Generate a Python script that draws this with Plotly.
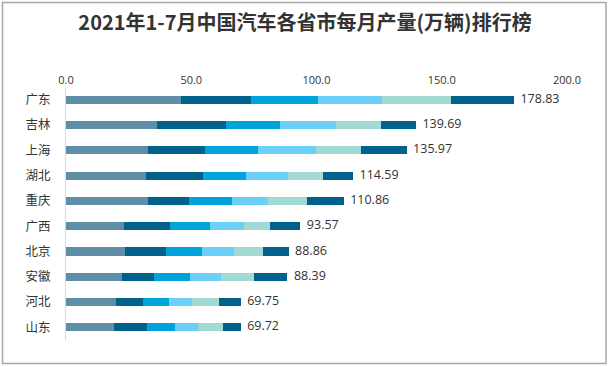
import plotly.graph_objects as go

provinces = ["广东", "吉林", "上海", "湖北", "重庆", "广西", "北京", "安徽", "河北", "山东"]
months = ["1-2月", "3月", "4月", "5月", "6月", "7月"]
m12 = [45.9, 36.4, 32.8, 32.0, 32.8, 23.2, 23.6, 22.5, 19.9, 19.3]
m3 = [27.9, 27.6, 22.8, 22.8, 16.4, 18.4, 16.4, 12.5, 10.8, 12.9]
m4 = [26.9, 21.6, 21.2, 17.0, 17.2, 16.0, 14.4, 14.4, 10.4, 11.3]
m5 = [25.4, 22.0, 22.8, 17.0, 14.4, 13.6, 12.8, 12.5, 9.2, 9.3]
m6 = [27.5, 18.0, 18.0, 13.79, 15.6, 10.4, 11.6, 13.2, 10.7, 9.7]
m7 = [25.23, 14.09, 18.37, 12.0, 14.46, 11.97, 10.06, 13.29, 8.75, 7.22]
totals = [178.83, 139.69, 135.97, 114.59, 110.86, 93.57, 88.86, 88.39, 69.75, 69.72]
tick_vals = [0, 50, 100, 150, 200]
tick_text = ["0.0", "50.0", "100.0", "150.0", "200.0"]

series = [m12, m3, m4, m5, m6, m7]
colors = ["#5f8fa6", "#00618a", "#00a3da", "#6ccff5", "#a2d9d5", "#00618a"]

fig = go.Figure()
for name, vals, c in zip(months, series, colors):
    fig.add_trace(go.Bar(
        y=provinces, x=vals, orientation="h", name=name,
        marker=dict(color=c, line=dict(width=0)),
        hoverinfo="x+name",
    ))

fig.add_trace(go.Scatter(
    y=provinces, x=totals, mode="text",
    text=[f"  {t:.2f}" for t in totals], textposition="middle right",
    textfont=dict(family="Open Sans, sans-serif", size=12.5, color="#333333"),
    showlegend=False, hoverinfo="skip", cliponaxis=False,
))

W, H = 610, 367
L, R, T, B = 66, 43, 87, 27
pw, ph = W - L - R, H - T - B

def px2paper_x(px):
    return (px - L) / pw

def px2paper_y(py):
    return (H - B - py) / ph

fig.add_shape(type="rect", xref="paper", yref="paper",
              x0=px2paper_x(2.5), x1=px2paper_x(606),
              y0=px2paper_y(363.5), y1=px2paper_y(2.5),
              line=dict(color="#a6a6a6", width=1.5), fillcolor="rgba(0,0,0,0)", layer="below")

fig.update_layout(
    width=W, height=H,
    margin=dict(l=L, r=R, t=T, b=B),
    barmode="stack", bargap=0.68,
    showlegend=False,
    plot_bgcolor="white", paper_bgcolor="white",
    title=dict(text="<b>2021年1-7月中国汽车各省市每月产量(万辆)排行榜</b>",
               x=0.5, xref="container", xanchor="center", y=1 - 23 / H, yanchor="middle",
               font=dict(family="Noto Sans CJK SC", size=20, color="#333333")),
    font=dict(family="Noto Sans CJK SC", size=12, color="#333333"),
    xaxis=dict(side="top", range=[0, 200], tickvals=tick_vals, ticktext=tick_text,
               showgrid=False, zeroline=False, showline=False, ticks="",
               tickfont=dict(family="Open Sans, sans-serif", size=11, color="#333333")),
    yaxis=dict(autorange="reversed", categoryorder="array", categoryarray=provinces,
               showgrid=False, zeroline=False, showline=True, linecolor="#d9d9d9", linewidth=1,
               ticks="", ticklabelstandoff=12,
               tickfont=dict(family="Noto Sans CJK SC", size=12.5, color="#333333")),
)

fig.write_html("out.html", config={"displayModeBar": False},
               post_script="document.body.style.margin='0';document.body.style.padding='0';")
